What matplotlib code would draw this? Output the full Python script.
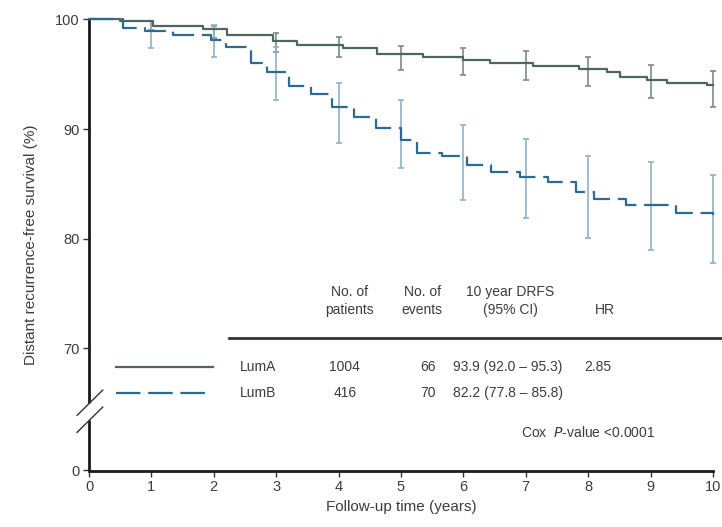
import matplotlib
matplotlib.use("Agg")
import matplotlib.pyplot as plt
import numpy as np

plt.rcParams['font.family'] = ['Liberation Sans', 'DejaVu Sans']

# ---- data ----
luma_t = [0, 0.5, 1.03, 1.83, 2.21, 2.95, 3.33, 4.07, 4.62, 5.35, 6.0, 6.43, 7.12, 7.85, 8.3, 8.51, 8.94, 9.27, 9.9, 10.0]
luma_s = [100, 99.8, 99.4, 99.1, 98.6, 98.0, 97.65, 97.35, 96.85, 96.6, 96.3, 96.05, 95.75, 95.45, 95.2, 94.75, 94.5, 94.2, 94.0, 94.0]
lumb_t = [0, 0.55, 0.9, 1.35, 1.95, 2.2, 2.6, 2.85, 3.2, 3.55, 3.9, 4.25, 4.6, 5.0, 5.25, 5.65, 6.05, 6.45, 6.9, 7.35, 7.8, 8.1, 8.6, 9.4, 10.0]
lumb_s = [100, 99.2, 98.9, 98.6, 98.1, 97.5, 96.0, 95.2, 93.9, 93.2, 92.0, 91.1, 90.1, 89.0, 87.8, 87.5, 86.7, 86.1, 85.6, 85.2, 84.3, 83.6, 83.1, 82.3, 82.2]

ci_years = [1, 2, 3, 4, 5, 6, 7, 8, 9, 10]
luma_est = [99.4, 98.9, 98.0, 97.65, 96.85, 96.3, 95.75, 95.45, 94.5, 94.0]
luma_lo = [99.0, 98.3, 97.0, 96.6, 95.4, 94.9, 94.5, 93.9, 92.8, 92.0]
luma_hi = [99.8, 99.4, 98.75, 98.4, 97.6, 97.4, 97.1, 96.6, 95.8, 95.3]
lumb_est = [98.9, 98.1, 95.2, 91.7, 89.6, 87.5, 85.8, 84.1, 83.1, 82.2]
lumb_lo = [97.4, 96.6, 92.6, 88.7, 86.4, 83.5, 81.9, 80.1, 79.0, 77.8]
lumb_hi = [99.8, 99.5, 97.5, 94.2, 92.6, 90.4, 89.1, 87.5, 87.0, 85.8]

groups = ["LumA", "LumB"]
n_patients = ["1004", "416"]
n_events = ["66", "70"]
drfs = ["93.9 (92.0 \u2013 95.3)", "82.2 (77.8 \u2013 85.8)"]
hr = ["2.85", ""]
header = ["No. of\npatients", "No. of\nevents", "10 year DRFS\n(95% CI)", "HR"]

x_ticks = list(range(0, 11))
y_tick_vals = [70, 80, 90, 100]
y_zero_pos = 58.87  # position of the "0" tick below the axis break

col_a = "#4c6660"
col_b = "#2c6a8f"
err_a = "#7d8a86"
err_b = "#8fb2c3"
txt = "#3c3c3c"

fig = plt.figure(figsize=(7.22, 5.27), dpi=100)
ax = fig.add_axes([89/722, (527-470.5)/527, (713-89)/722, (470.5-19.3)/527])
ax.set_xlim(0, 10)
ax.set_ylim(y_zero_pos, 100)

# curves
ax.step(luma_t, luma_s, where='post', color=col_a, lw=1.6, clip_on=False, zorder=3)
ax.step(lumb_t, lumb_s, where='post', color=col_b, lw=1.6, dashes=(11, 3.5), clip_on=False, zorder=3)

# error bars
ax.errorbar(ci_years, luma_est,
            yerr=[np.array(luma_est) - np.array(luma_lo), np.array(luma_hi) - np.array(luma_est)],
            fmt='none', ecolor=err_a, elinewidth=1.2, capsize=2.5, capthick=1.2, clip_on=False, zorder=2)
ax.errorbar(ci_years, lumb_est,
            yerr=[np.array(lumb_est) - np.array(lumb_lo), np.array(lumb_hi) - np.array(lumb_est)],
            fmt='none', ecolor=err_b, elinewidth=1.2, capsize=2.5, capthick=1.2, clip_on=False, zorder=2)

# axes styling
for s in ['top', 'right', 'left']:
    ax.spines[s].set_visible(False)
ax.spines['bottom'].set_linewidth(2)
ax.spines['bottom'].set_color('#1a1a1a')
# broken left spine
ax.plot([0, 0], [y_zero_pos, 63.5], color='#1a1a1a', lw=2, clip_on=False, solid_capstyle='butt')
ax.plot([0, 0], [65.0, 100], color='#1a1a1a', lw=2, clip_on=False, solid_capstyle='butt')
ax.plot([-0.19, 0.22], [63.9, 66.2], color='#333333', lw=1, clip_on=False)
ax.plot([-0.19, 0.22], [62.35, 64.65], color='#333333', lw=1, clip_on=False)

ax.set_xticks(x_ticks)
ax.set_xticklabels([str(v) for v in x_ticks], fontsize=10.5, color=txt)
ax.set_yticks([y_zero_pos] + y_tick_vals)
ax.set_yticklabels(['0'] + [str(v) for v in y_tick_vals], fontsize=10.5, color=txt)
ax.tick_params(axis='both', direction='out', length=4, width=1, color='#333333', pad=3)

ax.set_xlabel("Follow-up time (years)", fontsize=11, color=txt, labelpad=4)
ax.set_ylabel("Distant recurrence-free survival (%)", fontsize=11, color=txt, labelpad=12)

# legend lines
ax.plot([0.43, 1.99], [68.31, 68.31], color=col_a, lw=1.6, clip_on=False)
ax.plot([0.43, 1.86], [65.94, 65.94], color=col_b, lw=1.6, dashes=(11, 3.5), clip_on=False)

# table
tfs = 10
hx = [4.18, 5.34, 6.75, 8.27]
for x, h in zip(hx, header):
    ax.text(x, 73.14, h, ha='center', va='baseline', fontsize=tfs, color=txt, linespacing=1.35)
ax.plot([2.24, 10.14], [70.95, 70.95], color='#333333', lw=2, clip_on=False)
rows_y = [68.31, 65.94]
for i, y in enumerate(rows_y):
    ax.text(2.42, y, groups[i], ha='left', va='center', fontsize=tfs, color=txt)
    ax.text(4.10, y, n_patients[i], ha='center', va='center', fontsize=tfs, color=txt)
    ax.text(5.43, y, n_events[i], ha='center', va='center', fontsize=tfs, color=txt)
    ax.text(6.71, y, drfs[i], ha='center', va='center', fontsize=tfs, color=txt)
    ax.text(8.16, y, hr[i], ha='center', va='center', fontsize=tfs, color=txt)
ax.text(9.07, 62.3, "Cox  $\\it{P}$-value <0.0001", ha='right', va='center', fontsize=tfs, color=txt)

fig.savefig("out.png", dpi=100, facecolor='white')
